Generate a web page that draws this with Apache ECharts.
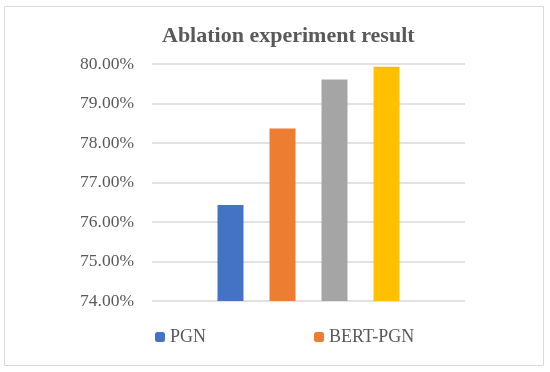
<!DOCTYPE html>
<html>
<head>
<meta charset="utf-8">
<script src="https://cdn.jsdelivr.net/npm/echarts@6/dist/echarts.min.js"></script>
<style>html,body{margin:0;padding:0;background:#fff;}#c{width:550px;height:372px;}</style>
</head>
<body>
<div id="c"></div>
<script>
var seriesNames = ['PGN', 'BERT-PGN', 'Model 3', 'Model 4'];
var seriesValues = [76.43, 78.37, 79.61, 79.93];
var seriesColors = ['#4472C4', '#ED7D31', '#A5A5A5', '#FFC000'];
var yTicks = [74, 75, 76, 77, 78, 79, 80];
var categories = [''];

var chart = echarts.init(document.getElementById('c'));
var font = 'Liberation Serif';
var series = seriesNames.map(function (n, i) {
  return {
    name: n, type: 'bar', data: [seriesValues[i]],
    barWidth: 26, barGap: '100%',
    itemStyle: { color: seriesColors[i] }
  };
});
chart.setOption({
  animation: false,
  backgroundColor: '#fff',
  title: {
    text: 'Ablation experiment result',
    left: 157, top: 20,
    textStyle: { fontFamily: font, fontSize: 22, fontWeight: 'bold', color: '#595959' }
  },
  legend: [
    { data: [seriesNames[0]], left: 155, top: 328, itemWidth: 10, itemHeight: 10, itemGap: 5,
      textStyle: { fontFamily: font, fontSize: 18, color: '#595959' }, padding: 0 },
    { data: [seriesNames[1]], left: 314, top: 328, itemWidth: 10, itemHeight: 10, itemGap: 5,
      textStyle: { fontFamily: font, fontSize: 18, color: '#595959' }, padding: 0 }
  ],
  graphic: [{
    type: 'rect', shape: { x: 4.5, y: 6.5, width: 539, height: 359 },
    style: { fill: 'none', stroke: '#D9D9D9', lineWidth: 1 }, silent: true
  }],
  grid: { left: 152, right: 85, top: 64, bottom: 71 },
  xAxis: {
    type: 'category', data: categories,
    axisLine: { show: false }, axisTick: { show: false }, axisLabel: { show: false }
  },
  yAxis: {
    type: 'value', min: yTicks[0], max: yTicks[yTicks.length - 1], interval: 1,
    axisLine: { show: false }, axisTick: { show: false },
    axisLabel: { margin: 18, fontFamily: font, fontSize: 17.5, color: '#595959',
      formatter: function (v) { return v.toFixed(2) + '%'; } },
    splitLine: { lineStyle: { color: '#D9D9D9', width: 1.5 } }
  },
  series: series
});
</script>
</body>
</html>
